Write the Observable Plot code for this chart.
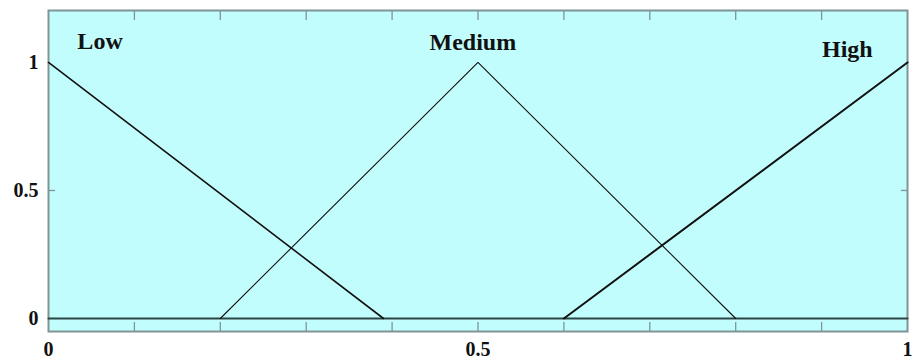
<!DOCTYPE html>
<html>
<head>
<meta charset="utf-8">
<script src="https://cdn.jsdelivr.net/npm/d3@7"></script>
<script src="https://cdn.jsdelivr.net/npm/@observablehq/plot@0.6"></script>
<style>
  html, body { margin: 0; padding: 0; background: #fff; }
</style>
</head>
<body>
<div id="chart"></div>
<script>
// Membership functions
const lowX = [0, 0.39];
const lowY = [1, 0];
const mediumX = [0.2, 0.5, 0.8];
const mediumY = [0, 1, 0];
const highX = [0.6, 1];
const highY = [0, 1];
const baseX = [0, 1];
const baseY = [0, 0];

// Labels
const curveNames = ["Low", "Medium", "High"];
const curveLabelX = [0.06, 0.494, 0.93];
const curveLabelY = [1.084, 1.078, 1.053];

// Ticks
const xTickLabels = [0, 0.5, 1];
const yTickLabels = [0, 0.5, 1];
const xMinorTicks = [0.1, 0.2, 0.3, 0.4, 0.5, 0.6, 0.7, 0.8, 0.9];
const yMinorTicks = [0.5];

const toPts = (xs, ys) => xs.map((x, i) => ({x, y: ys[i]}));
const labels = curveNames.map((name, i) => ({name, x: curveLabelX[i], y: curveLabelY[i]}));

const frameColor = "#7f9494";
const fontFamily = "'Liberation Serif', 'Times New Roman', serif";

const chart = Plot.plot({
  width: 912,
  height: 360,
  marginLeft: 48,
  marginRight: 5,
  marginTop: 10,
  marginBottom: 29,
  style: {fontFamily, background: "#fff"},
  x: {domain: [0, 1], label: null},
  y: {domain: [-0.0508, 1.203], label: null},
  marks: [
    Plot.frame({fill: "#c2fdfd", stroke: null}),
    // inward minor ticks
    Plot.axisX(xMinorTicks, {anchor: "bottom", label: null, tickSize: -9, tickFormat: () => "", stroke: frameColor, strokeWidth: 1.3}),
    Plot.axisX(xMinorTicks, {anchor: "top", label: null, tickSize: -9, tickFormat: () => "", stroke: frameColor, strokeWidth: 1.3}),
    Plot.axisY(yMinorTicks, {anchor: "left", label: null, tickSize: -7, tickFormat: () => "", stroke: frameColor, strokeWidth: 1.3}),
    Plot.axisY(yMinorTicks, {anchor: "right", label: null, tickSize: -7, tickFormat: () => "", stroke: frameColor, strokeWidth: 1.3}),
    // tick labels
    Plot.axisX(xTickLabels, {anchor: "bottom", label: null, tickSize: 0, tickPadding: 10, fontSize: 20, fontWeight: "bold", fill: "#111", tickFormat: d => String(d)}),
    Plot.axisY(yTickLabels, {anchor: "left", label: null, tickSize: 0, tickPadding: 10, fontSize: 20, fontWeight: "bold", fill: "#111", tickFormat: d => String(d)}),
    Plot.frame({stroke: frameColor, strokeWidth: 2}),
    // baseline
    Plot.line(toPts(baseX, baseY), {x: "x", y: "y", stroke: "#2c4444", strokeWidth: 2}),
    // membership lines
    Plot.line(toPts(lowX, lowY), {x: "x", y: "y", stroke: "#111", strokeWidth: 1.6}),
    Plot.line(toPts(mediumX, mediumY), {x: "x", y: "y", stroke: "#111", strokeWidth: 1.1}),
    Plot.line(toPts(highX, highY), {x: "x", y: "y", stroke: "#111", strokeWidth: 2}),
    // curve labels
    Plot.text(labels, {x: "x", y: "y", text: "name", fontSize: 24, fontWeight: "bold", fill: "#111", fontFamily})
  ]
});
document.getElementById("chart").appendChild(chart);
</script>
</body>
</html>
